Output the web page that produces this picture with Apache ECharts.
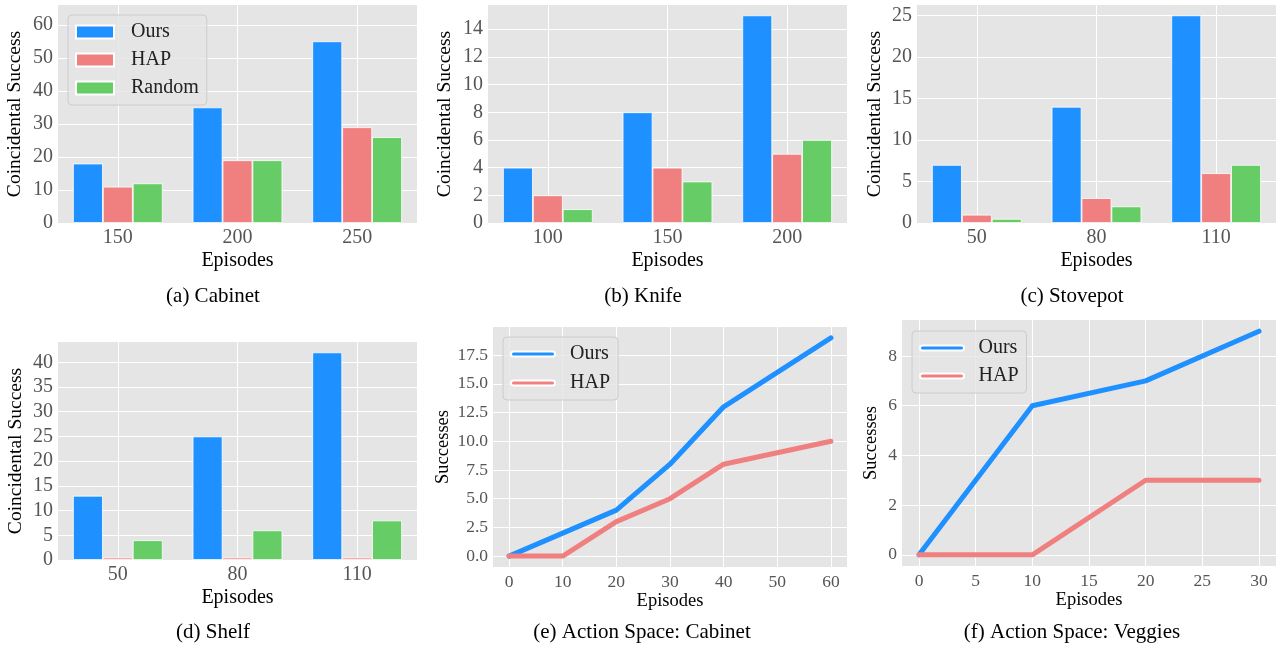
<!DOCTYPE html>
<html>
<head>
<meta charset="utf-8">
<script src="https://cdn.jsdelivr.net/npm/echarts@6/dist/echarts.min.js"></script>
<style>
  html, body { margin: 0; padding: 0; background: #fff; }
  #main { width: 1278px; height: 650px; }
</style>
</head>
<body>
<div id="main"></div>
<script>
// bar panels: categories + values
var cabinetEpisodes = ["150", "200", "250"];
var cabinetOurs = [18, 35, 55];
var cabinetHap = [11, 19, 29];
var cabinetRandom = [12, 19, 26];

var knifeEpisodes = ["100", "150", "200"];
var knifeOurs = [4, 8, 15];
var knifeHap = [2, 4, 5];
var knifeRandom = [1, 3, 6];

var stovepotEpisodes = ["50", "80", "110"];
var stovepotOurs = [7, 14, 25];
var stovepotHap = [1, 3, 6];
var stovepotRandom = [0.5, 2, 7];

var shelfEpisodes = ["50", "80", "110"];
var shelfOurs = [13, 25, 42];
var shelfHap = [0.5, 0.5, 0.5];
var shelfRandom = [4, 6, 8];

// line panels
var asCabinetEpisodes = [0, 10, 20, 30, 40, 50, 60];
var asCabinetOurs = [0, 2, 4, 8, 13, 16, 19];
var asCabinetHap = [0, 0, 3, 5, 8, 9, 10];

var asVeggiesEpisodes = [0, 10, 20, 30];
var asVeggiesOurs = [0, 6, 7, 9];
var asVeggiesHap = [0, 0, 3, 3];

// tick labels
var ticksA = [0, 10, 20, 30, 40, 50, 60];
var ticksB = [0, 2, 4, 6, 8, 10, 12, 14];
var ticksC = [0, 5, 10, 15, 20, 25];
var ticksD = [0, 5, 10, 15, 20, 25, 30, 35, 40];
var ticksEx = [0, 10, 20, 30, 40, 50, 60];
var ticksEy = [0, 2.5, 5, 7.5, 10, 12.5, 15, 17.5];
var ticksFx = [0, 5, 10, 15, 20, 25, 30];
var ticksFy = [0, 2, 4, 6, 8];

var captions = ["(a) Cabinet", "(b) Knife", "(c) Stovepot", "(d) Shelf",
  "(e) Action Space: Cabinet", "(f) Action Space: Veggies"];

var BLUE = "#1E90FF", RED = "#F08080", GREEN = "#66CC66";
var FONT = "Liberation Serif";

var grids = [
  { left: 58, top: 5, width: 359, height: 218 },
  { left: 488, top: 5, width: 359, height: 218 },
  { left: 917, top: 5, width: 359, height: 218 },
  { left: 58, top: 342, width: 359, height: 218 },
  { left: 493, top: 327, width: 354, height: 240 },
  { left: 902, top: 320, width: 374, height: 246 }
];
grids.forEach(function(g) {
  g.show = true;
  g.backgroundColor = "#E5E5E5";
  g.borderWidth = 0;
  g.containLabel = false;
});

function catAxis(i, cats) {
  return {
    type: "category", gridIndex: i, data: cats,
    name: "Episodes", nameLocation: "middle", nameGap: 28,
    nameTextStyle: { fontFamily: FONT, fontSize: 20, color: "#000" },
    axisLine: { show: false }, axisTick: { show: false },
    axisLabel: { fontFamily: FONT, fontSize: 20, color: "#555", margin: 5 },
    splitLine: { show: true, alignWithLabel: true, lineStyle: { color: "#fff", width: 1 } }
  };
}
function valAxis(i, min, max, ticks, name, gap, dir, fs, tfs, fmt) {
  var ax = {
    type: "value", gridIndex: i, min: min, max: max,
    name: name, nameLocation: "middle", nameGap: gap,
    nameTextStyle: { fontFamily: FONT, fontSize: fs, color: "#000" },
    axisLine: { show: false },
    axisTick: { show: false, customValues: ticks },
    axisLabel: { fontFamily: FONT, fontSize: tfs, color: "#555",
      margin: dir === "y" ? 5 : 6, customValues: ticks, formatter: fmt },
    splitLine: { show: true, lineStyle: { color: "#fff", width: 1 } }
  };
  return ax;
}

var xAxes = [
  catAxis(0, cabinetEpisodes),
  catAxis(1, knifeEpisodes),
  catAxis(2, stovepotEpisodes),
  catAxis(3, shelfEpisodes),
  valAxis(4, -3, 63, ticksEx, "Episodes", 23, "x", 18.5, 17.5),
  valAxis(5, -1.5, 31.5, ticksFx, "Episodes", 23, "x", 18.5, 17.5)
];
var yAxes = [
  valAxis(0, 0, 66, ticksA, "Coincidental Success", 33, "y", 19.5, 20),
  valAxis(1, 0, 15.75, ticksB, "Coincidental Success", 33, "y", 19.5, 20),
  valAxis(2, 0, 26.25, ticksC, "Coincidental Success", 32, "y", 19.5, 20),
  valAxis(3, 0, 44.1, ticksD, "Coincidental Success", 32, "y", 19.5, 20),
  valAxis(4, -0.95, 19.95, ticksEy, "Successes", 40, "y", 18.5, 17.5,
    function(v) { return v.toFixed(1); }),
  valAxis(5, -0.45, 9.45, ticksFy, "Successes", 21, "y", 18.5, 17.5)
];

var series = [];
function addBars(i, ours, hap, rnd) {
  [["Ours", ours, BLUE], ["HAP", hap, RED], ["Random", rnd, GREEN]].forEach(function(s) {
    series.push({
      type: "bar", name: s[0], xAxisIndex: i, yAxisIndex: i, data: s[1],
      barWidth: "25%", barGap: "0%",
      itemStyle: { color: s[2], borderColor: "#fff", borderWidth: 0.8 },
      emphasis: { disabled: true }
    });
  });
}
addBars(0, cabinetOurs, cabinetHap, cabinetRandom);
addBars(1, knifeOurs, knifeHap, knifeRandom);
addBars(2, stovepotOurs, stovepotHap, stovepotRandom);
addBars(3, shelfOurs, shelfHap, shelfRandom);

function addLines(i, xs, ours, hap) {
  [["Ours", ours, BLUE], ["HAP", hap, RED]].forEach(function(s) {
    series.push({
      type: "line", name: s[0], xAxisIndex: i, yAxisIndex: i,
      data: xs.map(function(x, k) { return [x, s[1][k]]; }),
      symbol: "none", color: s[2],
      lineStyle: { color: s[2], width: 5, cap: "round", join: "round" },
      z: s[0] === "Ours" ? 3 : 4,
      emphasis: { disabled: true }
    });
  });
}
addLines(4, asCabinetEpisodes, asCabinetOurs, asCabinetHap);
addLines(5, asVeggiesEpisodes, asVeggiesOurs, asVeggiesHap);

var rectIcon = "path://M0,0H38V13H0Z";
var lineIcon = "path://M2.5,0H41.5A2.5,2.5,0,0,1,41.5,5H2.5A2.5,2.5,0,0,1,2.5,0Z";
function legendBox(left, top, names, icon, w, h, gap, pad) {
  return {
    orient: "vertical", left: left, top: top, data: names,
    icon: icon, itemWidth: w, itemHeight: h, itemGap: gap,
    padding: [7, 8, 7, 7],
    backgroundColor: "rgba(229,229,229,0.8)",
    borderColor: "#cccccc", borderWidth: 1, borderRadius: 4,
    selectedMode: false,
    textStyle: { fontFamily: FONT, fontSize: 20, color: "#222", padding: [0, 0, 0, pad] }
  };
}

var graphics = [];
var capPos = [[213, 296], [643, 296], [1072, 296], [213, 632], [642, 632], [1072, 632]];
captions.forEach(function(t, k) {
  graphics.push({
    type: "text", x: capPos[k][0], y: capPos[k][1],
    style: { text: t, font: "21px " + FONT, fill: "#000", align: "center", verticalAlign: "middle" }
  });
});

var myChart = echarts.init(document.getElementById("main"));
myChart.setOption({
  animation: false,
  textStyle: { fontFamily: FONT },
  grid: grids,
  xAxis: xAxes,
  yAxis: yAxes,
  legend: [
    legendBox(68, 15, ["Ours", "HAP", "Random"], rectIcon, 38, 13, 8, 12),
    legendBox(503, 337, ["Ours", "HAP"], lineIcon, 44, 5, 9, 10),
    legendBox(912, 331, ["Ours", "HAP"], lineIcon, 47, 5, 8, 8)
  ],
  series: series,
  graphic: graphics
});
</script>
</body>
</html>
